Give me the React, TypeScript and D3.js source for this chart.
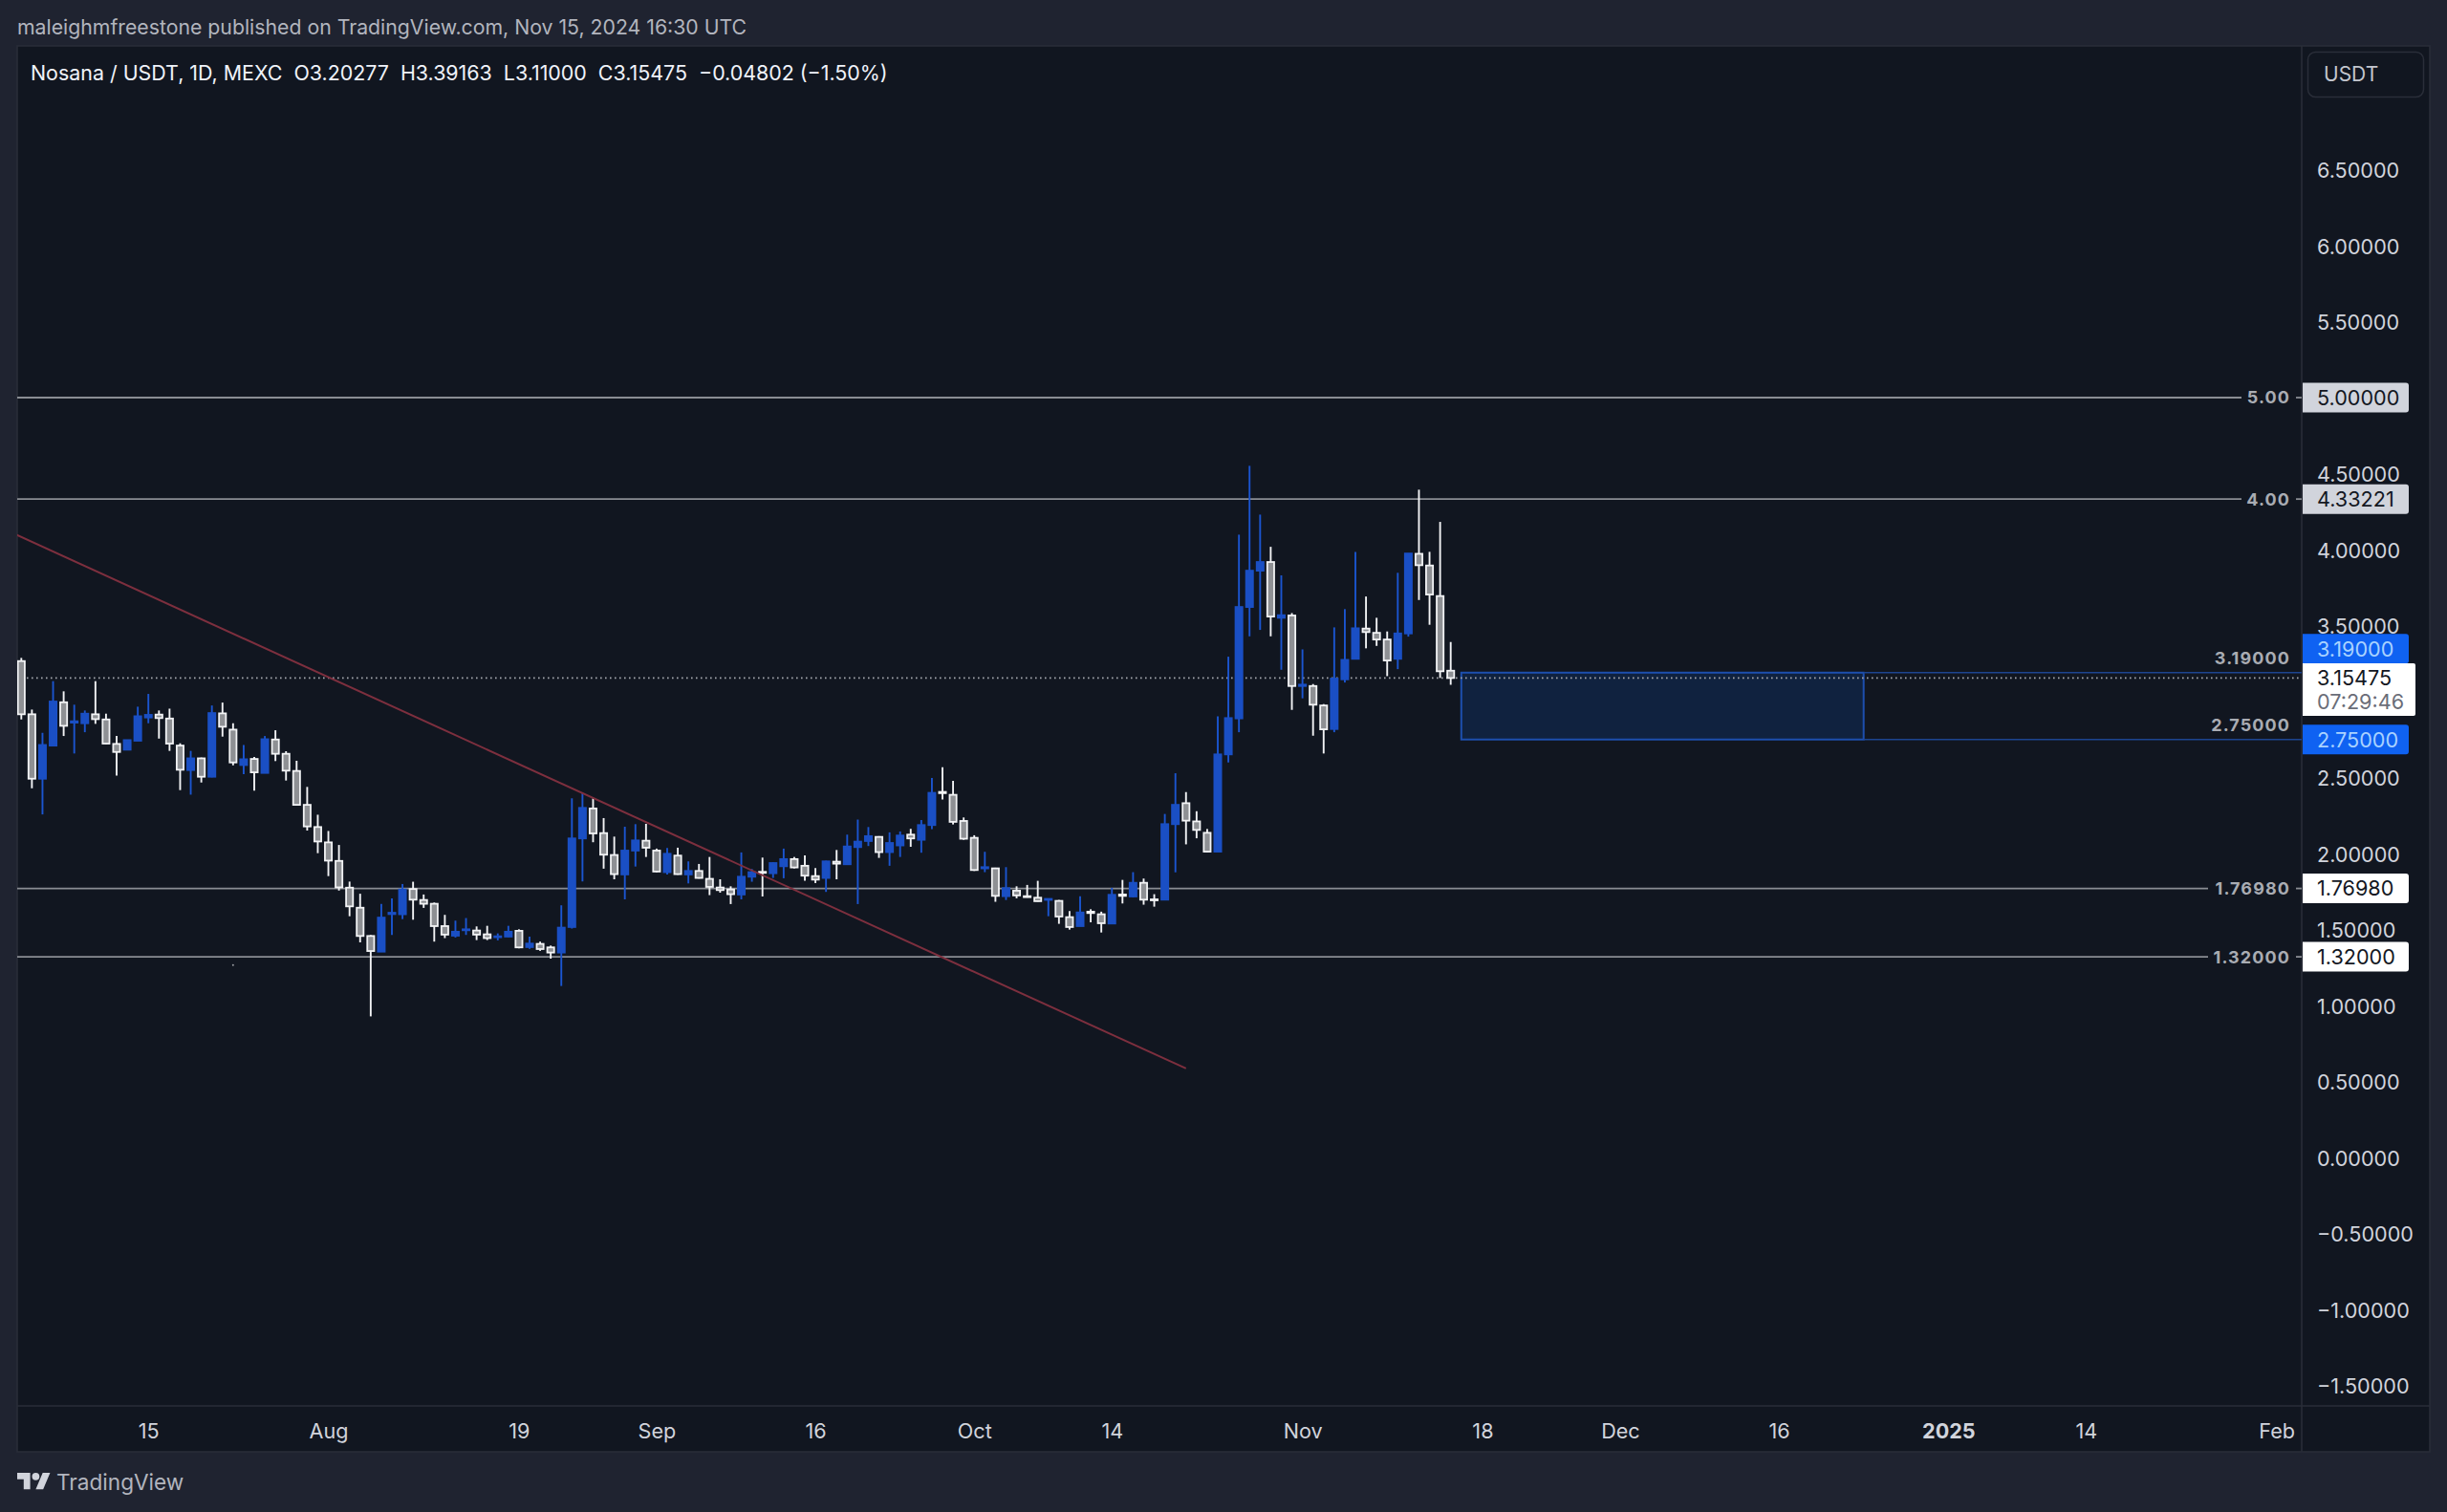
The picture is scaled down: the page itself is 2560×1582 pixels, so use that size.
import React, { useEffect, useRef } from 'react'
import * as d3 from 'd3'

const WIDTH = 2560
const HEIGHT = 1582

// daily candles, Jul 3 - Nov 15 2024
const firstDay = new Date(Date.UTC(2024, 6, 3))
const lastDay = new Date(Date.UTC(2024, 10, 15))

const opens = [
  3.266, 2.916, 2.492, 2.71, 2.995, 2.861, 2.857, 2.916, 2.882, 2.721, 2.683, 2.742, 2.895, 2.914, 2.888, 2.71, 2.549,
  2.626, 2.505, 2.922, 2.815, 2.582, 2.622, 2.53, 2.75, 2.656, 2.543, 2.32, 2.174, 2.073, 1.951, 1.775, 1.643, 1.457,
  1.354, 1.601, 1.6, 1.766, 1.694, 1.669, 1.522, 1.459, 1.497, 1.493, 1.468, 1.449, 1.453, 1.491, 1.384, 1.405, 1.382,
  1.348, 1.516, 2.099, 2.296, 2.134, 1.99, 1.862, 2.019, 2.084, 2.019, 1.877, 1.986, 1.862, 1.885, 1.833, 1.776, 1.763,
  1.73, 1.847, 1.879, 1.87, 1.916, 1.963, 1.919, 1.851, 1.839, 1.946, 1.929, 2.042, 2.082, 2.109, 2.009, 2.053, 2.124,
  2.09, 2.187, 2.405, 2.386, 2.214, 2.103, 1.902, 1.902, 1.719, 1.755, 1.719, 1.709, 1.696, 1.688, 1.581, 1.522, 1.617,
  1.6, 1.539, 1.73, 1.717, 1.807, 1.698, 1.696, 2.193, 2.331, 2.211, 2.136, 2.012, 2.652, 2.889, 3.622, 3.861, 3.918,
  3.551, 3.566, 3.102, 3.102, 2.974, 2.819, 3.146, 3.281, 3.48, 3.452, 3.408, 3.281, 3.448, 3.972, 3.895, 3.694,
  3.20277,
]
const highs = [
  3.287, 2.947, 2.794, 3.134, 3.067, 2.979, 2.941, 3.134, 2.92, 2.773, 2.746, 2.966, 3.05, 2.941, 2.953, 2.725, 2.675,
  2.631, 2.974, 2.993, 2.857, 2.714, 2.635, 2.773, 2.811, 2.673, 2.61, 2.438, 2.255, 2.148, 2.056, 1.815, 1.735, 1.463,
  1.668, 1.704, 1.799, 1.814, 1.73, 1.677, 1.596, 1.558, 1.575, 1.52, 1.524, 1.474, 1.524, 1.501, 1.453, 1.42, 1.394,
  1.659, 2.363, 2.397, 2.363, 2.233, 2.111, 2.176, 2.193, 2.195, 2.032, 2.036, 2.038, 1.948, 1.931, 1.977, 1.83, 1.784,
  2.007, 1.898, 1.973, 1.942, 2.032, 1.977, 1.988, 1.904, 1.952, 2.023, 2.124, 2.223, 2.174, 2.114, 2.139, 2.145, 2.162,
  2.22, 2.497, 2.568, 2.478, 2.237, 2.12, 2.011, 1.906, 1.91, 1.784, 1.793, 1.82, 1.703, 1.694, 1.621, 1.719, 1.633,
  1.617, 1.774, 1.826, 1.877, 1.835, 1.732, 2.26, 2.528, 2.404, 2.278, 2.161, 2.903, 3.295, 4.098, 4.551, 4.23, 4.018,
  3.83, 3.582, 3.343, 3.115, 2.983, 3.488, 3.608, 3.985, 3.691, 3.551, 3.461, 3.847, 3.974, 4.394, 3.985, 4.182,
  3.39163,
]
const lows = [
  2.882, 2.429, 2.257, 2.705, 2.773, 2.658, 2.798, 2.853, 2.72, 2.513, 2.683, 2.742, 2.857, 2.756, 2.675, 2.417, 2.387,
  2.467, 2.501, 2.769, 2.58, 2.522, 2.413, 2.53, 2.608, 2.48, 2.318, 2.151, 2.002, 1.851, 1.756, 1.587, 1.415, 0.928,
  1.354, 1.463, 1.568, 1.564, 1.642, 1.42, 1.443, 1.447, 1.464, 1.43, 1.43, 1.428, 1.45, 1.376, 1.373, 1.359, 1.308,
  1.128, 1.506, 1.816, 2.074, 1.9, 1.83, 1.698, 1.914, 1.977, 1.877, 1.862, 1.86, 1.803, 1.835, 1.726, 1.742, 1.667,
  1.698, 1.814, 1.717, 1.839, 1.837, 1.902, 1.82, 1.805, 1.747, 1.83, 1.929, 1.667, 2.049, 1.971, 1.919, 1.977, 2.044,
  2.005, 2.16, 2.355, 2.191, 2.09, 1.885, 1.877, 1.682, 1.694, 1.705, 1.71, 1.684, 1.587, 1.537, 1.499, 1.522, 1.547,
  1.48, 1.539, 1.671, 1.711, 1.663, 1.65, 1.694, 1.876, 2.06, 2.1, 2.006, 2.012, 2.599, 2.798, 3.429, 3.471, 3.429,
  3.209, 2.945, 3.021, 2.775, 2.658, 2.798, 3.125, 3.281, 3.35, 3.366, 3.167, 3.213, 3.427, 3.668, 3.505, 3.155, 3.11,
]
const closes = [
  2.916, 2.492, 2.714, 3.0, 2.84, 2.87, 2.92, 2.884, 2.723, 2.668, 2.746, 2.903, 2.912, 2.891, 2.723, 2.551, 2.626,
  2.505, 2.924, 2.834, 2.599, 2.62, 2.534, 2.752, 2.656, 2.545, 2.32, 2.178, 2.079, 1.953, 1.777, 1.652, 1.457, 1.358,
  1.578, 1.61, 1.763, 1.696, 1.669, 1.522, 1.466, 1.485, 1.501, 1.466, 1.443, 1.455, 1.485, 1.382, 1.407, 1.371, 1.348,
  1.512, 2.099, 2.3, 2.132, 1.992, 1.864, 2.019, 2.086, 2.038, 1.881, 1.998, 1.864, 1.885, 1.839, 1.78, 1.759, 1.732,
  1.847, 1.877, 1.875, 1.937, 1.963, 1.908, 1.854, 1.828, 1.948, 1.933, 2.046, 2.078, 2.114, 2.009, 2.069, 2.118, 2.099,
  2.187, 2.399, 2.397, 2.208, 2.097, 1.891, 1.91, 1.721, 1.772, 1.724, 1.713, 1.686, 1.701, 1.585, 1.516, 1.612, 1.608,
  1.541, 1.728, 1.721, 1.807, 1.696, 1.692, 2.193, 2.32, 2.216, 2.155, 2.012, 2.652, 2.891, 3.622, 3.861, 3.918, 3.559,
  3.568, 3.102, 3.111, 2.979, 2.817, 3.151, 3.274, 3.482, 3.457, 3.408, 3.27, 3.448, 3.974, 3.897, 3.704, 3.199,
  3.15475,
]

const priceTicks = [6.5, 6, 5.5, 4.5, 4, 3.5, 2.5, 2, 1.5, 1, 0.5, 0, -0.5, -1, -1.5]
const timeTicks = [
  [Date.UTC(2024, 6, 15), '15'],
  [Date.UTC(2024, 7, 1), 'Aug'],
  [Date.UTC(2024, 7, 19), '19'],
  [Date.UTC(2024, 8, 1), 'Sep'],
  [Date.UTC(2024, 8, 16), '16'],
  [Date.UTC(2024, 9, 1), 'Oct'],
  [Date.UTC(2024, 9, 14), '14'],
  [Date.UTC(2024, 10, 1), 'Nov'],
  [Date.UTC(2024, 10, 18), '18'],
  [Date.UTC(2024, 11, 1), 'Dec'],
  [Date.UTC(2024, 11, 16), '16'],
  [Date.UTC(2025, 0, 1), '2025'],
  [Date.UTC(2025, 0, 14), '14'],
  [Date.UTC(2025, 1, 1), 'Feb'],
] as [number, string][]

// level lines: price of the line, text on the line, text on the axis tag
const levelLines = [
  { price: 5, label: '5.00', tag: '5.00000', tagFill: '#d1d4dc' },
  { price: 4.33221, label: '4.00', tag: '4.33221', tagFill: '#d1d4dc' },
  { price: 1.7698, label: '1.76980', tag: '1.76980', tagFill: '#ffffff' },
  { price: 1.32, label: '1.32000', tag: '1.32000', tagFill: '#ffffff' },
]

const zoneTop = 3.19
const zoneBottom = 2.75
const zoneStart = Date.UTC(2024, 10, 16)
const zoneEnd = Date.UTC(2024, 11, 24)
const lastClose = 3.15475

const trendDates = [Date.UTC(2024, 6, 2), Date.UTC(2024, 9, 21)]
const trendPrices = [4.114, 0.585]

const FONT = 'Inter, "Noto Sans", sans-serif'
const PANE = { left: 18, top: 48, right: 2408, bottom: 1471, outer: 2542, end: 1519 }
const UP = '#1a4fc4'
const UP_WICK = '#1b55d0'
const DOWN = '#f2f3f5'
const DOWN_FILL = '#8e9094'
const AXIS_SIZE = 21.6
const AXIS_TEXT_X = 2424

export default function App() {
  const ref = useRef<SVGSVGElement | null>(null)

  useEffect(() => {
    if (!ref.current) return
    const svg = d3.select(ref.current)
    svg.selectAll('*').remove()

    const x = d3.scaleUtc().domain([firstDay, lastDay]).range([22.3, 1517.7])
    const y = d3.scaleLinear().domain([5, 1.32]).range([416, 1001.1])
    const days = d3.utcDay.range(firstDay, d3.utcDay.offset(lastDay, 1))

    svg.append('rect').attr('width', WIDTH).attr('height', HEIGHT).attr('fill', '#1f2330')
    svg
      .append('rect')
      .attr('x', PANE.left)
      .attr('y', PANE.top)
      .attr('width', PANE.outer - PANE.left)
      .attr('height', PANE.end - PANE.top)
      .attr('fill', '#111620')
      .attr('stroke', '#2a2e39')
      .attr('stroke-width', 1.5)

    svg
      .append('line')
      .attr('x1', PANE.right)
      .attr('x2', PANE.right)
      .attr('y1', PANE.top)
      .attr('y2', PANE.end)
      .attr('stroke', '#2a2e39')
      .attr('stroke-width', 1.5)
    svg
      .append('line')
      .attr('x1', PANE.left)
      .attr('x2', PANE.outer)
      .attr('y1', PANE.bottom)
      .attr('y2', PANE.bottom)
      .attr('stroke', '#2a2e39')
      .attr('stroke-width', 1.5)

    svg
      .append('clipPath')
      .attr('id', 'pane')
      .append('rect')
      .attr('x', PANE.left)
      .attr('y', PANE.top)
      .attr('width', PANE.right - PANE.left)
      .attr('height', PANE.bottom - PANE.top)

    const chart = svg.append('g').attr('clip-path', 'url(#pane)')

    // level lines with their small labels
    levelLines.forEach((l) => {
      const long = l.label.length > 4
      chart
        .append('line')
        .attr('x1', PANE.left)
        .attr('x2', long ? 2310 : 2345)
        .attr('y1', y(l.price))
        .attr('y2', y(l.price))
        .attr('stroke', '#8a8d93')
        .attr('stroke-width', 1.8)
      chart
        .append('line')
        .attr('x1', 2402)
        .attr('x2', PANE.right)
        .attr('y1', y(l.price))
        .attr('y2', y(l.price))
        .attr('stroke', '#8a8d93')
        .attr('stroke-width', 1.8)
      chart
        .append('text')
        .attr('x', 2396)
        .attr('y', y(l.price) + 1.5)
        .attr('text-anchor', 'end')
        .attr('dominant-baseline', 'middle')
        .attr('font-family', FONT)
        .attr('font-size', 18)
        .attr('font-weight', 700)
        .attr('letter-spacing', 1.1)
        .attr('fill', '#a9acb3')
        .text(l.label)
    })

    // blue zone
    chart
      .append('rect')
      .attr('x', x(zoneStart))
      .attr('y', y(zoneTop))
      .attr('width', x(zoneEnd) - x(zoneStart))
      .attr('height', y(zoneBottom) - y(zoneTop))
      .attr('fill', '#10223f')
      .attr('stroke', '#1d4fae')
      .attr('stroke-width', 2)
    ;[zoneTop, zoneBottom].forEach((p) => {
      chart
        .append('line')
        .attr('x1', x(zoneEnd))
        .attr('x2', PANE.right)
        .attr('y1', y(p))
        .attr('y2', y(p))
        .attr('stroke', '#1d4590')
        .attr('stroke-width', 1.5)
      chart
        .append('text')
        .attr('x', 2396)
        .attr('y', y(p) - 14)
        .attr('text-anchor', 'end')
        .attr('dominant-baseline', 'middle')
        .attr('font-family', FONT)
        .attr('font-size', 18)
        .attr('font-weight', 700)
        .attr('letter-spacing', 1.1)
        .attr('fill', '#a9acb3')
        .text(d3.format('.5f')(p))
    })

    // last price dotted line
    chart
      .append('line')
      .attr('x1', PANE.left)
      .attr('x2', PANE.right)
      .attr('y1', y(lastClose))
      .attr('y2', y(lastClose))
      .attr('stroke', '#a3a6ac')
      .attr('stroke-width', 1.6)
      .attr('stroke-dasharray', '1.6 3.4')

    const bodyWidth = 7.2
    const candles = chart
      .selectAll('g.candle')
      .data(days)
      .join('g')
      .attr('class', 'candle')

    candles
      .append('line')
      .attr('x1', (d) => x(d))
      .attr('x2', (d) => x(d))
      .attr('y1', (_, i) => y(highs[i]))
      .attr('y2', (_, i) => y(lows[i]))
      .attr('stroke', (_, i) => (closes[i] >= opens[i] ? UP_WICK : DOWN))
      .attr('stroke-width', 1.9)

    candles
      .append('rect')
      .attr('x', (d) => x(d) - bodyWidth / 2)
      .attr('width', bodyWidth)
      .attr('y', (_, i) => y(Math.max(opens[i], closes[i])))
      .attr('height', (_, i) => Math.max(1, Math.abs(y(opens[i]) - y(closes[i]))))
      .attr('fill', (_, i) => (closes[i] >= opens[i] ? UP : DOWN_FILL))
      .attr('stroke', (_, i) => (closes[i] >= opens[i] ? UP : DOWN))
      .attr('stroke-width', 1.8)

    // stray dot left on the chart
    chart.append('circle').attr('cx', x(Date.UTC(2024, 6, 23))).attr('cy', y(1.266)).attr('r', 1).attr('fill', '#9a9da3')

    // red trend line
    chart
      .append('path')
      .attr(
        'd',
        d3
          .line<number>()
          .x((d) => x(d))
          .y((_, i) => y(trendPrices[i]))(trendDates)
      )
      .attr('fill', 'none')
      .attr('stroke', '#7d2f3e')
      .attr('stroke-width', 2)

    // price axis, labels start at the same x, so the minus sign pushes them right
    const priceAxis = svg
      .append('g')
      .attr('transform', `translate(${AXIS_TEXT_X},0.5)`)
      .call(d3.axisRight(y).tickValues(priceTicks).tickSize(0).tickFormat(d3.format('.5f') as any))
    priceAxis.select('.domain').remove()
    priceAxis
      .selectAll('text')
      .attr('x', 0)
      .attr('dy', '0.36em')
      .attr('text-anchor', 'start')
      .attr('font-family', FONT)
      .attr('font-size', AXIS_SIZE)
      .attr('fill', '#d1d4dc')

    // time axis
    const timeAxis = svg
      .append('g')
      .attr('transform', `translate(0,1497)`)
      .call(
        d3
          .axisBottom(x)
          .tickValues(timeTicks.map((t) => new Date(t[0])))
          .tickSize(0)
          .tickFormat((_, i) => timeTicks[i][1])
      )
    timeAxis.select('.domain').remove()
    timeAxis
      .selectAll('text')
      .attr('y', 0)
      .attr('dy', '0.35em')
      .attr('font-family', FONT)
      .attr('font-size', AXIS_SIZE)
      .attr('fill', '#d1d4dc')
      .attr('font-weight', (_, i) => (timeTicks[i][1] === '2025' ? 700 : 400))

    // tags on the price axis
    const tagText = (yPos: number, color: string, text: string) => {
      svg
        .append('text')
        .attr('x', AXIS_TEXT_X)
        .attr('y', yPos)
        .attr('dy', '0.36em')
        .attr('font-family', FONT)
        .attr('font-size', AXIS_SIZE)
        .attr('fill', color)
        .text(text)
    }
    const tag = (centre: number, h: number, fill: string, color: string, text: string) => {
      svg
        .append('path')
        .attr('d', `M${PANE.right + 1},${centre - h / 2}h108a3,3 0 0 1 3,3v${h - 6}a3,3 0 0 1 -3,3h-108z`)
        .attr('fill', fill)
      tagText(centre, color, text)
    }
    levelLines.forEach((l) => tag(y(l.price), 31, l.tagFill, '#131722', l.tag))
    tag(y(zoneTop) - 25, 31, '#0f62f2', '#a9d2ff', d3.format('.5f')(zoneTop))
    tag(y(zoneBottom), 31, '#0f62f2', '#a9d2ff', d3.format('.5f')(zoneBottom))

    // current price tag, with the countdown
    svg
      .append('path')
      .attr('d', `M${PANE.right + 1},694h116a2,2 0 0 1 2,2v51a2,2 0 0 1 -2,2h-116z`)
      .attr('fill', '#ffffff')
    tagText(709, '#131722', d3.format('.5f')(lastClose))
    tagText(734, '#6a6d78', '07:29:46')

    // currency box
    svg
      .append('rect')
      .attr('x', 2414.5)
      .attr('y', 54.5)
      .attr('width', 121)
      .attr('height', 47)
      .attr('rx', 8)
      .attr('fill', 'none')
      .attr('stroke', '#2a2e39')
      .attr('stroke-width', 1.5)
    svg
      .append('text')
      .attr('x', 2431)
      .attr('y', 77)
      .attr('dy', '0.36em')
      .attr('font-family', FONT)
      .attr('font-size', 21)
      .attr('fill', '#c3c6ce')
      .text('USDT')

    // header and legend
    svg
      .append('text')
      .attr('x', 18)
      .attr('y', 28)
      .attr('dy', '0.36em')
      .attr('font-family', FONT)
      .attr('font-size', 21.25)
      .attr('fill', '#b2b5be')
      .text('maleighmfreestone published on TradingView.com, Nov 15, 2024 16:30 UTC')
    svg
      .append('text')
      .attr('x', 32)
      .attr('y', 76)
      .attr('dy', '0.36em')
      .attr('font-family', FONT)
      .attr('font-size', 21.4)
      .attr('fill', '#f0f3fa')
      .attr('xml:space', 'preserve')
      .style('white-space', 'pre')
      .text('Nosana / USDT, 1D, MEXC  O3.20277  H3.39163  L3.11000  C3.15475  \u22120.04802 (\u22121.50%)')

    // logo
    const logo = svg.append('g').attr('transform', 'translate(18,1537) scale(0.97)').attr('fill', '#d1d4dc')
    logo.append('path').attr('d', 'M14 22H7V11H0V4h14v18zM28 22h-8l7.5-18h8L28 22z')
    logo.append('circle').attr('cx', 20).attr('cy', 8).attr('r', 4)
    svg
      .append('text')
      .attr('x', 59)
      .attr('y', 1551)
      .attr('dy', '0.36em')
      .attr('font-family', FONT)
      .attr('font-size', 22.6)
      .attr('fill', '#b2b5be')
      .text('TradingView')
  }, [])

  return (
    <svg
      ref={ref}
      width={WIDTH}
      height={HEIGHT}
      viewBox={`0 0 ${WIDTH} ${HEIGHT}`}
      style={{ position: 'absolute', left: 0, top: 0 }}
      role="img"
      aria-label="Nosana / USDT daily candlestick chart"
    />
  )
}
